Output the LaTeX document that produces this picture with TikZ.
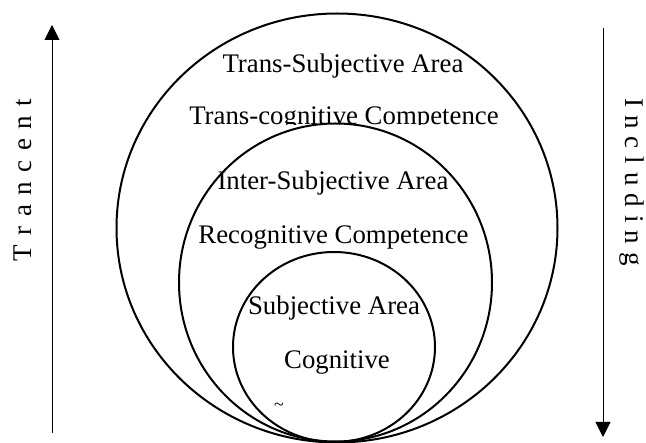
\documentclass[tikz,border=0pt]{standalone}
\usepackage{fontspec}
\setmainfont{Liberation Serif}
\usetikzlibrary{arrows.meta}
\tikzset{
  ring/.style={line width=2pt},
  lbl/.style={inner sep=0pt, font=\fontsize{26.8}{30}\selectfont},
  side/.style={inner sep=0pt, font=\fontsize{27}{30}\selectfont},
  axis/.style={line width=1pt, -{Triangle[length=15pt,width=15pt]}}
}
\begin{document}
\begin{tikzpicture}[x=1pt,y=-1pt]
\useasboundingbox (0,0) rectangle (646,443);
% rings
\draw[ring] (337,228) ellipse [x radius=220.5, y radius=214.5];
\draw[ring] (335.5,282.5) ellipse [x radius=156.5, y radius=159];
\draw[ring] (334,347) ellipse [x radius=101, y radius=95];
% texts
\node[lbl] (tsa) at (343,66) {Trans-Subjective Area};
\begin{scope}
\clip (150,95) rectangle (540,125);
\node[lbl] (tcc) at (344,119) {Trans-cognitive Competence};
\end{scope}
\node[lbl] (isa) at (333,183) {Inter-Subjective Area};
\node[lbl] (rc) at (333.5,238) {Recognitive Competence};
\node[lbl] (sa) at (334,308) {Subjective Area};
\node[lbl] (cog) at (337,363) {Cognitive};
\node[inner sep=0pt, font=\fontsize{18}{20}\selectfont] (tl) at (279,407) {\textasciitilde};
% arrows
\coordinate (l0) at (52,433);
\coordinate (l1) at (52,25);
\coordinate (r0) at (603,28);
\coordinate (r1) at (603,437);
\draw[axis] (l0) -- (l1);
\draw[axis] (r0) -- (r1);
\node[side, rotate=90] (tr) at (23,180) {T\hspace{9.5pt}r\hspace{9.5pt}a\hspace{9.5pt}n\hspace{9.5pt}c\hspace{9.5pt}e\hspace{9.5pt}n\hspace{9.5pt}t};
\node[side, rotate=-90] (inc) at (632,182) {I\hspace{8pt}n\hspace{8pt}c\hspace{8pt}l\hspace{8pt}u\hspace{8pt}d\hspace{8pt}i\hspace{8pt}n\hspace{8pt}g};
\end{tikzpicture}
\end{document}
